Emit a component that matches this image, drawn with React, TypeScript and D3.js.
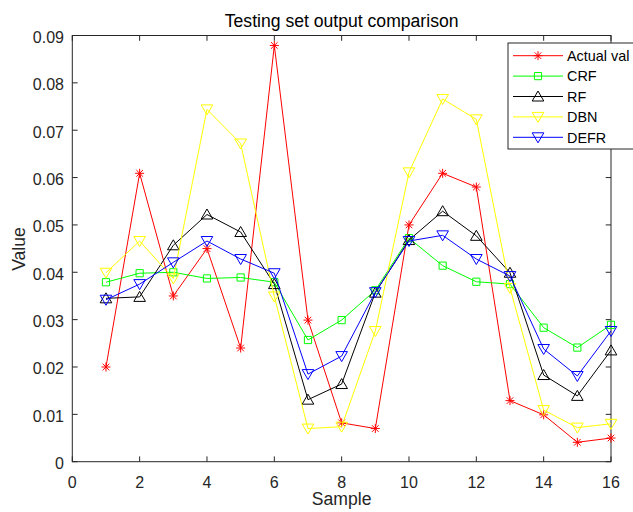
import React from "react";
import * as d3 from "d3";

const samples = [1, 2, 3, 4, 5, 6, 7, 8, 9, 10, 11, 12, 13, 14, 15, 16];
const actualValues = [0.020, 0.0609, 0.035, 0.045, 0.024, 0.0879, 0.0299, 0.0082, 0.007, 0.050, 0.0609, 0.058, 0.0129, 0.0099, 0.0041, 0.005];
const crfValues = [0.0379, 0.0398, 0.040, 0.0387, 0.0389, 0.0379, 0.0257, 0.0299, 0.0362, 0.0472, 0.0414, 0.0380, 0.0375, 0.0283, 0.0241, 0.0289];
const rfValues = [0.0345, 0.0348, 0.0457, 0.0522, 0.0485, 0.0375, 0.0131, 0.0164, 0.0357, 0.0468, 0.0529, 0.0477, 0.0399, 0.0183, 0.0139, 0.0235];
const dbnValues = [0.0399, 0.0466, 0.0387, 0.0744, 0.0672, 0.0349, 0.0070, 0.0074, 0.0276, 0.0611, 0.0766, 0.0723, 0.0367, 0.0109, 0.0072, 0.0080];
const defrValues = [0.0342, 0.0375, 0.0421, 0.0466, 0.0428, 0.0398, 0.0185, 0.0223, 0.0358, 0.0466, 0.0478, 0.0428, 0.0392, 0.0238, 0.0181, 0.0276];

const seriesNames = ["Actual val", "CRF", "RF", "DBN", "DEFR"];
const seriesColors = ["#ff0000", "#00ff00", "#000000", "#ffff00", "#0000ff"];
const seriesMarkers = ["asterisk", "square", "triUp", "triDown", "triDown"];
const seriesData = [actualValues, crfValues, rfValues, dbnValues, defrValues];

const xTicks = [0, 2, 4, 6, 8, 10, 12, 14, 16];
const yTicks = [0, 0.01, 0.02, 0.03, 0.04, 0.05, 0.06, 0.07, 0.08, 0.09];
const yTickLabels = ["0", "0.01", "0.02", "0.03", "0.04", "0.05", "0.06", "0.07", "0.08", "0.09"];

const FONT = "'Liberation Sans', Arial, Helvetica, sans-serif";
const AX = "#262626";

function markerPath(type: string): string {
  switch (type) {
    case "asterisk": {
      const r = 4.5, d = 3.3;
      return `M${-r},0L${r},0M0,${-r}L0,${r}M${-d},${-d}L${d},${d}M${-d},${d}L${d},${-d}`;
    }
    case "square":
      return "M-3.6,-3.6L3.6,-3.6L3.6,3.6L-3.6,3.6Z";
    case "triUp":
      return "M0,-5.5L5.8,4.5L-5.8,4.5Z";
    case "triDown":
      return "M0,5.5L5.8,-4.5L-5.8,-4.5Z";
  }
  return "";
}

export default function App() {
  const W = 633, H = 512;
  const left = 72.3, right = 611, top = 35.5, bottom = 461.7;
  const x = d3.scaleLinear().domain([0, 16]).range([left, right]);
  const y = d3.scaleLinear().domain([0, 0.09]).range([bottom, top]);
  const line = d3.line<number>().x((_, i) => x(samples[i])).y((v) => y(v));
  const tl = 5.3;

  const legX = 508, legY = 43, legH = 106;
  const rowY = (i: number) => 55.7 + i * 20.4;

  return (
    <svg width={W} height={H} style={{ position: "absolute", left: 0, top: 0, background: "#fff" }}>
      <rect x={0} y={0} width={W} height={H} fill="#fff" />
      {/* ticks */}
      <g stroke={AX} strokeWidth={1}>
        {xTicks.map((t) => (
          <g key={"xt" + t}>
            <line x1={x(t)} x2={x(t)} y1={bottom} y2={bottom - tl} />
            <line x1={x(t)} x2={x(t)} y1={top} y2={top + tl} />
          </g>
        ))}
        {yTicks.map((t) => (
          <g key={"yt" + t}>
            <line x1={left} x2={left + tl} y1={y(t)} y2={y(t)} />
            <line x1={right} x2={right - tl} y1={y(t)} y2={y(t)} />
          </g>
        ))}
        <rect x={left} y={top} width={right - left} height={bottom - top} fill="none" />
      </g>
      <g fontFamily={FONT} fontSize={16} fill={AX}>
        {xTicks.map((t) => (
          <text key={"xl" + t} x={x(t)} y={487.5} textAnchor="middle">{t}</text>
        ))}
        {yTicks.map((t, i) => (
          <text key={"yl" + t} x={64} y={y(t) + 7.5} textAnchor="end">{yTickLabels[i]}</text>
        ))}
      </g>
      <text x={(left + right) / 2} y={27} textAnchor="middle" fontFamily={FONT} fontSize={17.6} fill="#000">Testing set output comparison</text>
      <text x={(left + right) / 2} y={505} textAnchor="middle" fontFamily={FONT} fontSize={17.6} fill={AX}>Sample</text>
      <text transform={`translate(24.5,249) rotate(-90)`} textAnchor="middle" fontFamily={FONT} fontSize={17.6} fill={AX}>Value</text>

      {/* series */}
      {seriesData.map((vals, si) => (
        <g key={"s" + si}>
          <path d={line(vals) || ""} fill="none" stroke={seriesColors[si]} strokeWidth={1} />
          {vals.map((v, i) => (
            <path key={i} d={markerPath(seriesMarkers[si])} transform={`translate(${x(samples[i])},${y(v)})`} fill="none" stroke={seriesColors[si]} strokeWidth={1} />
          ))}
        </g>
      ))}

      {/* legend */}
      <rect x={legX} y={legY} width={200} height={legH} fill="#fff" stroke={AX} strokeWidth={1} />
      {seriesNames.map((n, i) => (
        <g key={"lg" + i}>
          <line x1={513} x2={563} y1={rowY(i)} y2={rowY(i)} stroke={seriesColors[i]} strokeWidth={1} />
          <path d={markerPath(seriesMarkers[i])} transform={`translate(538,${rowY(i)})`} fill="none" stroke={seriesColors[i]} strokeWidth={1} />
          <text x={567} y={rowY(i) + 5.2} fontFamily={FONT} fontSize={14.4} fill="#000">{n}</text>
        </g>
      ))}
    </svg>
  );
}
